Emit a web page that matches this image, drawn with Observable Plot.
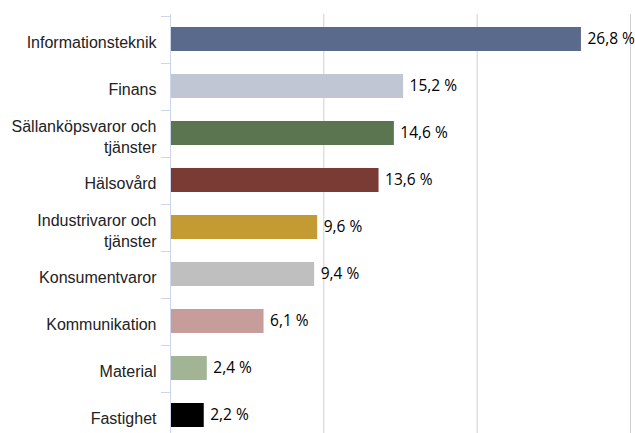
<!DOCTYPE html>
<html>
<head>
<meta charset="utf-8">
<script src="https://cdn.jsdelivr.net/npm/d3@7"></script>
<script src="https://cdn.jsdelivr.net/npm/@observablehq/plot@0.6"></script>
<style>
  html, body { margin: 0; padding: 0; background: #fff; overflow: hidden; }
  #chart svg { display: block; }
</style>
</head>
<body>
<div id="chart"></div>
<script>
const categories = [
  "Informationsteknik",
  "Finans",
  "Sällanköpsvaror och tjänster",
  "Hälsovård",
  "Industrivaror och tjänster",
  "Konsumentvaror",
  "Kommunikation",
  "Material",
  "Fastighet"
];
const categoryLabels = [
  "Informationsteknik",
  "Finans",
  "Sällanköpsvaror och\ntjänster",
  "Hälsovård",
  "Industrivaror och\ntjänster",
  "Konsumentvaror",
  "Kommunikation",
  "Material",
  "Fastighet"
];
const values = [26.8, 15.2, 14.6, 13.6, 9.6, 9.4, 6.1, 2.4, 2.2];
const colors = ["#5a6a8b", "#c0c6d4", "#5c7551", "#7a3b35", "#c49b33", "#bfbfbf", "#c79d9b", "#a1b596", "#000000"];
const gridTicks = [10, 20, 30];

const data = categories.map((c, i) => ({
  c, v: values[i], color: colors[i],
  label: values[i].toFixed(1).replace(".", ",") + " %"
}));
const labelOf = new Map(categories.map((c, i) => [c, categoryLabels[i]]));

function bandTicks(index, scales, values, dims) {
  const y = scales.y;
  const dom = y.domain();
  const bw = y.bandwidth();
  const step = y.step();
  const g = d3.create("svg:g").attr("stroke", "#ccd6eb").attr("stroke-width", 1);
  const x0 = dims.marginLeft;
  for (let i = 0; i <= dom.length; i++) {
    const base = i < dom.length ? y(dom[i]) + bw / 2 - step / 2 : y(dom[dom.length - 1]) + bw / 2 + step / 2;
    const yy = Math.round(base) + 0.5;
    g.append("line").attr("x1", x0 - 9).attr("x2", x0).attr("y1", yy).attr("y2", yy);
  }
  return g.node();
}

const chart = Plot.plot({
  width: 635,
  height: 440,
  marginTop: 14,
  marginBottom: 1,
  marginLeft: 170,
  marginRight: 5,
  style: { fontFamily: "'Liberation Sans', Arial, sans-serif", color: "#222", background: "#fff" },
  x: { domain: [0, 30], axis: null },
  y: { domain: categories, paddingInner: 0.49, paddingOuter: 0.245, axis: null, label: null },
  color: { type: "identity" },
  marks: [
    Plot.ruleX(gridTicks, { stroke: "#d0d0d0", strokeOpacity: 1 }),
    Plot.barX(data, { x: "v", y: "c", fill: "color" }),
    Plot.ruleX([0], { stroke: "#ccd6eb", strokeOpacity: 1 }),
    bandTicks,
    Plot.text(data, {
      x: "v", y: "c", text: "label", textAnchor: "start", dx: 6,
      fontFamily: "'Open Sans', sans-serif", fontSize: 15.5, fill: "#000"
    }),
    Plot.axisY({
      tickSize: 0, tickPadding: 14, fontSize: 16, lineHeight: 1.32, dy: 2,
      tickFormat: c => labelOf.get(c), fill: "#222", label: null
    })
  ]
});
document.getElementById("chart").appendChild(chart);
</script>
</body>
</html>
